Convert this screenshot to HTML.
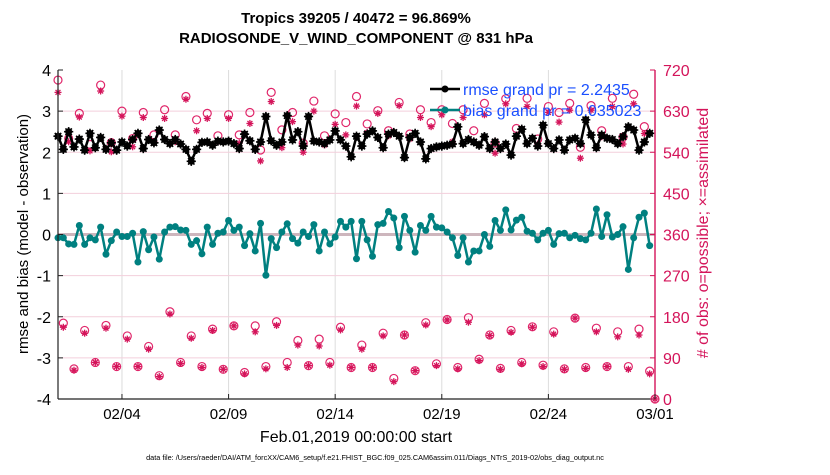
<!DOCTYPE html>
<html><head><meta charset="utf-8"><style>
body{margin:0;background:#fff;font-family:"Liberation Sans",sans-serif}
svg text{font-family:"Liberation Sans",sans-serif}
</style></head><body>
<svg id="c" width="830" height="470" viewBox="0 0 830 470" xmlns="http://www.w3.org/2000/svg">
<rect width="830" height="470" fill="#fff"/>
<text x="356" y="23" text-anchor="middle" font-size="15" font-weight="bold">Tropics 39205 / 40472 = 96.869%</text>
<text x="356" y="43" text-anchor="middle" font-size="15" font-weight="bold">RADIOSONDE_V_WIND_COMPONENT @ 831 hPa</text>
<g id="grid"></g>
<g id="marks"></g>
<g id="axes"></g>
<text transform="translate(28,234) rotate(-90)" text-anchor="middle" font-size="15">rmse and bias (model - observation)</text>
<text transform="translate(708,233) rotate(-90)" text-anchor="middle" font-size="16" fill="#d4145a"># of obs: o=possible; ×=assimilated</text>
<text x="356" y="442" text-anchor="middle" font-size="16">Feb.01,2019 00:00:00 start</text>
<text x="375" y="460" text-anchor="middle" font-size="7.3">data file: /Users/raeder/DAI/ATM_forcXX/CAM6_setup/f.e21.FHIST_BGC.f09_025.CAM6assim.011/Diags_NTrS_2019-02/obs_diag_output.nc</text>
<g>
<line x1="430" y1="89" x2="460" y2="89" stroke="#000" stroke-width="2.5"/>
<circle cx="445" cy="89" r="3.5" fill="#000"/>
<text x="463" y="95" font-size="16" fill="#1a4fff">rmse grand pr = 2.2435</text>
<line x1="430" y1="110" x2="460" y2="110" stroke="#008080" stroke-width="2.5"/>
<circle cx="445" cy="110" r="3.5" fill="#008080"/>
<text x="463" y="116" font-size="16" fill="#1a4fff">bias grand pr = 0.035023</text>
</g>
</svg>
<script>
const rmse=[2.39,2.07,2.5,2.13,2.32,2.05,2.46,2.11,2.36,2.07,2.23,2.05,2.25,2.15,2.31,2.46,2.09,2.31,2.23,2.54,2.31,2.21,2.31,2.2,2.07,1.78,2.07,2.24,2.25,2.17,2.27,2.25,2.27,2.21,2.09,2.44,2.28,2.07,2.25,2.87,2.28,2.17,2.25,2.89,2.3,2.5,2.15,2.87,2.27,2.25,2.21,2.3,2.52,2.3,2.15,1.89,2.39,2.15,2.44,2.52,2.36,2.11,2.44,2.48,2.39,1.87,2.36,2.46,2.25,1.84,2.09,2.13,2.15,2.17,2.2,2.62,2.21,2.31,2.25,2.17,2.38,2.09,2.25,2.09,2.2,1.93,2.39,2.56,2.21,2.34,2.15,2.66,2.21,2.09,2.3,2.05,2.3,2.34,2.21,2.79,2.42,2.11,2.42,2.34,2.31,2.21,2.38,2.62,2.54,2.05,2.25,2.46];
const bias=[-0.08,-0.08,-0.23,-0.24,0.22,-0.24,-0.08,-0.13,0.18,-0.48,-0.15,0.06,-0.05,-0.05,0.03,-0.67,0.07,-0.37,-0.06,-0.6,0.06,0.18,0.19,0.11,0.1,-0.24,-0.15,-0.47,0.18,-0.24,0.03,0.06,0.34,0.1,0.18,-0.27,0.02,-0.4,0.27,-0.99,-0.1,-0.32,0.06,0.26,-0.1,-0.21,0.06,-0.05,0.24,-0.4,0.06,-0.23,-0.06,0.32,0.18,0.32,-0.59,0.32,-0.13,-0.53,0.24,0.27,0.56,0.4,-0.32,0.44,0.1,-0.43,0.22,0.1,0.44,0.18,0.16,0.06,-0.08,-0.51,-0.08,-0.67,-0.4,-0.4,0,-0.29,0.34,0.1,0.6,0.11,0.35,0.42,0.08,0.03,-0.13,0.03,0.1,-0.24,0.02,0.03,-0.08,-0.02,-0.1,-0.13,0.03,0.62,-0.05,0.48,-0.06,0,0.19,-0.85,-0.08,0.42,0.52,-0.27];
const possible=[698,166,570,66,625,150,557,80,687,161,561,71,630,138,570,71,627,115,578,51,633,191,578,80,662,138,611,71,625,153,576,65,622,160,578,58,627,160,545,71,671,169,589,80,627,128,560,73,652,131,576,80,624,157,605,69,662,118,602,69,631,144,587,45,649,140,580,62,633,167,605,77,633,174,603,69,633,178,587,87,647,140,560,67,657,150,592,80,658,158,569,74,640,147,627,66,647,177,551,69,642,155,587,71,658,147,573,71,667,153,596,61,0];
const assimilated=[671,157,563,63,617,144,543,80,674,155,541,71,619,131,552,71,616,109,563,49,614,186,563,78,656,133,587,69,614,150,563,65,614,160,560,55,603,147,521,66,651,161,550,69,607,118,540,73,630,116,556,74,601,151,578,69,641,109,583,69,625,138,576,38,642,140,569,62,616,162,596,73,622,173,563,66,616,168,563,84,622,139,538,65,646,146,574,77,640,157,558,71,627,142,606,65,632,177,527,67,632,147,574,71,640,136,558,65,646,140,581,55,0];
const xTicks=[3,8,13,18,23,28];
const xTickLabels=["02/04","02/09","02/14","02/19","02/24","03/01"];
const yTicks=[-4,-3,-2,-1,0,1,2,3,4];
const rTicks=[0,90,180,270,360,450,540,630,720];

const L=58,R=655,T=70,B=399;
const X=d=>L+(d/28)*(R-L);
const Y=v=>B-(v+4)/8*(B-T);
const YR=v=>B-v/720*(B-T);
const NS="http://www.w3.org/2000/svg";
function mk(tag,attrs,parent){const e=document.createElementNS(NS,tag);for(const k in attrs)e.setAttribute(k,attrs[k]);parent.appendChild(e);return e;}
function star(parent,x,y,s){mk('line',{x1:x-s,x2:x+s,y1:y,y2:y},parent);mk('line',{x1:x,x2:x,y1:y-s,y2:y+s},parent);
mk('line',{x1:x-s*.7,x2:x+s*.7,y1:y-s*.7,y2:y+s*.7},parent);mk('line',{x1:x-s*.7,x2:x+s*.7,y1:y+s*.7,y2:y-s*.7},parent);}
const grid=document.getElementById('grid'),marks=document.getElementById('marks'),axes=document.getElementById('axes');
xTicks.forEach(d=>{const g=mk('line',{x1:X(d),x2:X(d),y1:T,y2:B,stroke:'#dcdcdc','stroke-width':1},grid);

});
yTicks.forEach(v=>{if(v===-4||v===4)return;const g=mk('line',{x1:L,x2:R,y1:Y(v),y2:Y(v),stroke:'#f3cfdc','stroke-width':1},grid);

});
const z=mk('line',{x1:L,x2:R,y1:Y(0),y2:Y(0),stroke:'#cdb6bd','stroke-width':3},grid);


possible.forEach((v,i)=>{const c=mk('circle',{cx:X(i*0.25),cy:YR(v),r:4,fill:'none',stroke:'#e0266a','stroke-width':1.2},marks);

});
assimilated.forEach((v,i)=>{
const g=mk('g',{stroke:'#d4145a','stroke-width':1.3},marks);


star(g,X(i*0.25),YR(v),3.5);});
function series(arr,col,name,withStar){
const p=mk('polyline',{points:arr.map((v,i)=>X(i*0.25)+','+Y(v)).join(' '),fill:'none',stroke:col,'stroke-width':2.5,'stroke-linejoin':'round'},marks);


arr.forEach((v,i)=>{const g=mk('g',{stroke:col,'stroke-width':1.6},marks);


mk('circle',{cx:X(i*0.25),cy:Y(v),r:3.5,fill:col,stroke:'none'},g);
if(withStar)star(g,X(i*0.25),Y(v),4.6);});}
series(bias,'#008080','bias',false);
series(rmse,'#000','rmse',true);
mk('line',{x1:L,x2:L,y1:T,y2:B,stroke:'#222','stroke-width':1.2},axes);
mk('line',{x1:L,x2:R,y1:B,y2:B,stroke:'#222','stroke-width':1.2},axes);
mk('line',{x1:R,x2:R,y1:T,y2:B,stroke:'#d4145a','stroke-width':1.4},axes);
yTicks.forEach(v=>{mk('line',{x1:L,x2:L+5,y1:Y(v),y2:Y(v),stroke:'#222'},axes);
const t=mk('text',{x:L-7,y:Y(v)+6,'text-anchor':'end','font-size':16},axes);t.textContent=v;

});
rTicks.forEach(v=>{mk('line',{x1:R-5,x2:R,y1:YR(v),y2:YR(v),stroke:'#d4145a'},axes);
const t=mk('text',{x:R+8,y:YR(v)+6,'font-size':16,fill:'#d4145a'},axes);t.textContent=v;

});
xTicks.forEach((d,i)=>{mk('line',{x1:X(d),x2:X(d),y1:B-5,y2:B,stroke:'#222'},axes);
const t=mk('text',{x:X(d),y:B+20,'text-anchor':'middle','font-size':15},axes);t.textContent=xTickLabels[i];

});
</script>
</body></html>
